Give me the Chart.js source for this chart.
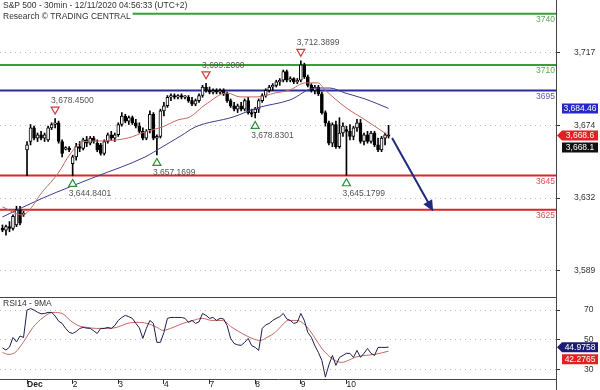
<!DOCTYPE html>
<html>
<head>
<meta charset="utf-8">
<script src="https://cdn.jsdelivr.net/npm/chart.js@4.4.1/dist/chart.umd.min.js"></script>
<style>
  html, body { margin: 0; padding: 0; background: #fff; }
  #wrap { position: relative; width: 600px; height: 390px; }
  #priceChart { position: absolute; left: 0; top: 0; }
  #rsiChart { position: absolute; left: 0; top: 297px; }
</style>
</head>
<body>
<div id="wrap">
  <canvas id="priceChart" width="600" height="297"></canvas>
  <canvas id="rsiChart" width="600" height="93"></canvas>
</div>
<script>
const FONT = '"Liberation Sans", Arial, sans-serif';

// sessions: bar index of the first 30min bar of each day
const dayLabels = ['Dec', '2', '3', '4', '7', '8', '9', '10'];
const dayStart = [7, 20, 33, 46, 59, 72, 85, 98];

// OHLC, one value per 30min bar (Nov 30 tail, then Dec 1 .. Dec 10)
const opens = [
  3614, 3613, 3615, 3614, 3616, 3625, 3622,
  3660, 3665, 3673, 3667, 3669, 3667, 3666, 3673, 3675, 3676, 3665, 3660.5, 3661,
  3652, 3656, 3662, 3661, 3666, 3664, 3667, 3664, 3663, 3658, 3665, 3669, 3667,
  3669, 3675, 3680, 3677, 3679, 3676, 3674, 3671, 3667, 3672, 3681, 3667, 3668,
  3683, 3686, 3691, 3692, 3691, 3692, 3691, 3691, 3689, 3687, 3689, 3692, 3697,
  3695, 3694, 3695, 3694, 3695, 3693, 3689, 3686, 3684, 3686, 3684, 3689, 3682,
  3682, 3684, 3689, 3692, 3695, 3697, 3698, 3700, 3701, 3706, 3701, 3702, 3700,
  3701, 3710, 3703, 3698, 3695, 3697, 3693, 3682, 3676, 3664, 3675, 3662, 3670,
  3672, 3671, 3668, 3673, 3676, 3665, 3669, 3665, 3670, 3663, 3660, 3667, 3669
];
const highs = [
  3616, 3616, 3618, 3622, 3627, 3627, 3624,
  3665, 3675, 3674, 3670, 3671, 3670, 3674, 3676, 3678.45, 3677, 3666, 3662, 3662,
  3657, 3664, 3665, 3667, 3668, 3668, 3668, 3666, 3664, 3666, 3670, 3671, 3670,
  3676, 3682, 3681, 3680, 3680, 3678, 3676, 3673, 3672, 3683, 3682, 3669, 3684,
  3688, 3692, 3693, 3693, 3692.5, 3693, 3692, 3692, 3691, 3690, 3693, 3698, 3699.2,
  3697, 3696, 3696, 3696, 3696, 3694, 3690, 3688, 3687, 3688, 3690, 3691, 3684,
  3685, 3690, 3693, 3696, 3698, 3699, 3701, 3702, 3707, 3707, 3703, 3702.5, 3702,
  3712.39, 3711, 3704, 3699, 3698, 3698, 3694, 3683, 3677, 3676, 3677, 3679, 3676,
  3674, 3675, 3674, 3678, 3678, 3670, 3671, 3671, 3671, 3667, 3668, 3670, 3674.5
];
const lows = [
  3612, 3610, 3612, 3613, 3615, 3616, 3621,
  3645, 3663, 3666, 3665, 3666, 3665, 3665, 3672, 3673, 3664, 3656, 3660, 3659,
  3644.84, 3654, 3659, 3660, 3662, 3663, 3664, 3659, 3657, 3657, 3664, 3666, 3665,
  3668, 3674, 3676, 3675, 3675, 3673, 3670, 3666, 3666, 3670, 3666, 3657.17, 3667,
  3680, 3685, 3689, 3690, 3690, 3690, 3690, 3688, 3686, 3686, 3688, 3691, 3694,
  3693, 3693, 3693, 3693, 3692, 3688, 3685, 3683, 3682, 3683, 3683, 3681, 3679.5,
  3678.83, 3682, 3688, 3691, 3694, 3695, 3697, 3698, 3700, 3700, 3700, 3699, 3699,
  3700, 3702, 3697, 3694, 3693, 3692, 3681, 3674, 3663, 3662, 3661, 3661, 3668,
  3645.18, 3666, 3666, 3671, 3664, 3663, 3664, 3664, 3662, 3659, 3659, 3663, 3667
];
const closes = [
  3613, 3615, 3614, 3621, 3625, 3617, 3623,
  3663, 3673, 3667, 3669, 3667, 3669, 3673, 3675, 3676, 3665, 3658, 3661.5, 3660,
  3656, 3662, 3661, 3666, 3664, 3667, 3665, 3660, 3658, 3665, 3669, 3667, 3669,
  3675, 3680, 3677, 3679, 3676, 3674, 3671, 3667, 3671, 3681, 3667, 3668, 3683,
  3686, 3691, 3692, 3691, 3692, 3691, 3691.8, 3689, 3687, 3689, 3692, 3697, 3695,
  3694, 3695, 3694, 3695, 3693, 3689, 3686, 3684, 3686, 3684, 3689, 3682, 3681,
  3684, 3689, 3692, 3695, 3697, 3698, 3700, 3701, 3706, 3701, 3702, 3700, 3701,
  3710, 3703, 3698, 3695, 3697, 3693, 3682, 3676, 3664, 3675, 3662, 3670, 3674,
  3671, 3668, 3673, 3676, 3665, 3669, 3665, 3670, 3663, 3660, 3667, 3669, 3668.1
];

// moving averages (bar index, price)
const redMaBars = [0, 5.6, 11.6, 15.9, 19.3, 23, 27.8, 35.8, 40.6, 45.5, 50, 53.4, 57.7, 64, 67.7, 72.5, 77.7, 81.9, 86.2, 89.9, 91.9, 97.6, 103.3, 110];
const redMaValues = [3626.6, 3621.9, 3636, 3646.5, 3657.7, 3665, 3665.3, 3667.1, 3670.6, 3673.5, 3677.7, 3679.4, 3686.5, 3693.5, 3691.2, 3691.2, 3693.5, 3695.3, 3699.4, 3699.4, 3695.3, 3685.3, 3677.7, 3668.6];
const blueMaBars = [0, 11.6, 26.4, 40.6, 45.5, 50.8, 54.9, 65.7, 72.5, 81.9, 89.1, 93.3, 97.6, 103.3, 110];
const blueMaValues = [3620.7, 3631.9, 3644.2, 3655.9, 3661.8, 3668.3, 3673.5, 3679.4, 3684.7, 3689.4, 3696.4, 3696.4, 3693.5, 3690, 3684.46];

// RSI(14) per bar and its 9-period average
const rsiValues = [
  44.5, 43, 45, 51.5, 48.5, 52.5, 51.5,
  70, 71, 70, 68.5, 67.5, 67.7, 68.4, 68.4, 66, 62.5, 61, 57.6, 55,
  54.2, 55.5, 57.6, 58.3, 57.8, 57.6, 56, 54.2, 57.6, 57.6, 58.3, 57.6, 59.6,
  63, 65, 66.4, 65.5, 64.4, 61, 58, 50.9, 57.6, 63, 61, 48.2, 48.2,
  54.9, 64.4, 65, 65, 65, 65, 64.4, 61.7, 63, 61, 62, 67.7, 66.4,
  64.4, 65, 63, 64.4, 64, 59.6, 50.9, 47.5, 46.5, 46.2, 48.2, 50.9, 46,
  44.8, 42.8, 57.6, 60, 61, 63, 64.4, 65.5, 67.7, 64, 63, 61, 61.7,
  67.7, 63, 54.9, 51.6, 46, 41.4, 36, 24.8, 33, 39.4, 32.7, 38, 39.4,
  40.8, 40.8, 38.1, 42.8, 38.1, 40.8, 44.1, 40.8, 39.4, 44.8, 44.8, 44.8, 44.9758
];
const rsiMaBars = [0, 1.6, 3.6, 5.9, 8.7, 11.6, 14.4, 17, 19.3, 21.5, 24.1, 26.9, 29.8, 32.6, 35.5, 38.3, 41.2, 44, 45.7, 48.6, 51.4, 54.3, 56.9, 59.7, 62.6, 65.4, 68.3, 71.1, 73.4, 75.4, 77.7, 79.6, 81.4, 83.9, 85.3, 87.1, 89.1, 91, 92.8, 94.7, 96.7, 98.5, 100.4, 103.3, 106.1, 110];
const rsiMaValues = [41.4, 40.1, 41.4, 48.2, 58.3, 65, 68.4, 67.7, 63, 59.6, 58.3, 57.6, 57.6, 58.3, 61, 61.7, 61, 58.3, 56.3, 58.3, 61, 63, 64.4, 63, 63, 58.3, 54.2, 50.9, 49.5, 51.6, 54.9, 59.6, 63, 63, 61.7, 57.6, 50.9, 44.1, 39.4, 36, 34.7, 36, 38.1, 39.4, 40.1, 42.2765];

// axes
const priceTicks = [3589.2, 3631.8, 3674.4, 3717];
const rsiTicks = [30, 50, 70];

// horizontal support / resistance levels
const levels = [3740, 3710, 3695, 3645, 3625];
const levelColors = ['#36a036', '#36a036', '#2a2a9e', '#d82626', '#d82626'];
const levelTextColors = ['#5aa85a', '#5aa85a', '#5a5ab4', '#d45050', '#d45050'];

// swing highs / lows marked on the chart
const pivotBars = [15, 20, 44, 58, 72, 85, 98];
const pivotPrices = [3678.45, 3644.8401, 3657.1699, 3699.2, 3678.8301, 3712.3899, 3645.1799];
const pivotKinds = ['high', 'low', 'low', 'high', 'low', 'high', 'low'];

// projected move
const arrowBars = [111, 122.7];
const arrowPrices = [3667, 3624];

const xMin = -0.7, xMax = 157.7;

const fmt = (v, d) => v.toLocaleString('en-US', { minimumFractionDigits: d, maximumFractionDigits: d });

// value tags on the right axis, pushed down when they overlap
function drawTags(ctx, yScale, tags) {
  const h = 10, x0 = 562, x1 = 598;
  let prevBottom = -Infinity;
  tags.map(t => ({ ...t, py: yScale.getPixelForValue(t.value) }))
    .sort((a, b) => a.py - b.py)
    .forEach(t => {
      const top = Math.max(t.py - h / 2, prevBottom + 2);
      const mid = top + h / 2;
      ctx.beginPath();
      ctx.moveTo(x0, top);
      ctx.lineTo(x1, top);
      ctx.lineTo(x1, top + h);
      ctx.lineTo(x0, top + h);
      if (t.pointer) ctx.lineTo(x0 - 5, mid);
      ctx.closePath();
      ctx.fillStyle = t.bg;
      ctx.fill();
      ctx.fillStyle = '#fff';
      ctx.textAlign = 'center';
      ctx.fillText(fmt(t.value, t.dec), (x0 + x1) / 2, mid + 0.5);
      prevBottom = top + h;
    });
}

const priceDecor = {
  id: 'priceDecor',
  afterDraw(chart) {
    const { ctx, chartArea: a, scales: { x, y } } = chart;
    ctx.save();
    ctx.font = '8.5px ' + FONT;
    ctx.textBaseline = 'middle';

    ctx.textAlign = 'right';
    levels.forEach((lv, i) => {
      ctx.fillStyle = levelTextColors[i];
      ctx.fillText(String(lv), a.right - 1, y.getPixelForValue(lv) + 6);
    });

    ctx.textAlign = 'left';
    pivotBars.forEach((b, i) => {
      const px = x.getPixelForValue(b), py = y.getPixelForValue(pivotPrices[i]);
      const high = pivotKinds[i] === 'high';
      const ty = high ? py - 8 : py + 7;
      ctx.beginPath();
      if (high) { ctx.moveTo(px - 4, ty - 3.5); ctx.lineTo(px + 4, ty - 3.5); ctx.lineTo(px, ty + 3.5); }
      else { ctx.moveTo(px - 4, ty + 3.5); ctx.lineTo(px + 4, ty + 3.5); ctx.lineTo(px, ty - 3.5); }
      ctx.closePath();
      ctx.fillStyle = '#fff';
      ctx.fill();
      ctx.lineWidth = 1.2;
      ctx.strokeStyle = high ? '#d23b3b' : '#2f8f3a';
      ctx.stroke();
      ctx.fillStyle = '#555';
      ctx.fillText(fmt(pivotPrices[i], 4), px - 4, high ? py - 18 : py + 18);
    });

    // arrow
    const ax0 = x.getPixelForValue(arrowBars[0]), ay0 = y.getPixelForValue(arrowPrices[0]);
    const ax1 = x.getPixelForValue(arrowBars[1]), ay1 = y.getPixelForValue(arrowPrices[1]);
    const ang = Math.atan2(ay1 - ay0, ax1 - ax0);
    ctx.strokeStyle = '#1f2a80';
    ctx.fillStyle = '#1f2a80';
    ctx.lineWidth = 2;
    ctx.beginPath();
    ctx.moveTo(ax0, ay0);
    ctx.lineTo(ax1 - 8 * Math.cos(ang), ay1 - 8 * Math.sin(ang));
    ctx.stroke();
    ctx.beginPath();
    ctx.moveTo(ax1, ay1);
    ctx.lineTo(ax1 - 11 * Math.cos(ang) + 5 * Math.sin(ang), ay1 - 11 * Math.sin(ang) - 5 * Math.cos(ang));
    ctx.lineTo(ax1 - 11 * Math.cos(ang) - 5 * Math.sin(ang), ay1 - 11 * Math.sin(ang) + 5 * Math.cos(ang));
    ctx.closePath();
    ctx.fill();

    // header
    ['S&P 500 - 30min - 12/11/2020 04:56:33 (UTC+2)', 'Research \u00a9 TRADING CENTRAL'].forEach((t, i) => {
      const ty = 5.5 + i * 11;
      ctx.fillStyle = '#fff';
      ctx.fillRect(0, ty - 5.5, ctx.measureText(t).width + 5, 11);
      ctx.fillStyle = '#333';
      ctx.textAlign = 'left';
      ctx.fillText(t, 3, ty);
    });

    drawTags(ctx, y, [
      { value: blueMaValues[blueMaValues.length - 1], dec: 2, bg: '#2727c8', pointer: false },
      { value: redMaValues[redMaValues.length - 1], dec: 1, bg: '#e02222', pointer: true },
      { value: closes[closes.length - 1], dec: 1, bg: '#111', pointer: false }
    ]);
    ctx.restore();
  }
};

const rsiDecor = {
  id: 'rsiDecor',
  afterDraw(chart) {
    const { ctx, chartArea: a, scales: { y } } = chart;
    ctx.save();
    ctx.strokeStyle = '#444';
    ctx.lineWidth = 1;
    ctx.beginPath();
    ctx.moveTo(0, 0.5);
    ctx.lineTo(a.right, 0.5);
    ctx.moveTo(a.right + 0.5, a.bottom);
    ctx.lineTo(a.right + 0.5, chart.height);
    ctx.stroke();
    ctx.font = '8.5px ' + FONT;
    ctx.textBaseline = 'middle';
    ctx.textAlign = 'left';
    ctx.fillStyle = '#333';
    ctx.fillText('RSI14 - 9MA', 3, 7);
    drawTags(ctx, y, [
      { value: rsiValues[rsiValues.length - 1], dec: 4, bg: '#1c1c78', pointer: true },
      { value: rsiMaValues[rsiMaValues.length - 1], dec: 4, bg: '#e02222', pointer: false }
    ]);
    ctx.restore();
  }
};

const tickFont = { family: FONT, size: 8.5 };

const yAxis = (min, max, ticks, label, pad) => ({
  position: 'right', min, max,
  // fixed axis width, and no extra room for the label padding above/below
  afterFit: s => { s.width = 44; s.paddingTop = 0; s.paddingBottom = 0; },
  afterBuildTicks: s => { s.ticks = ticks.map(v => ({ value: v })); },
  ticks: { callback: label, font: tickFont, color: '#333', padding: pad },
  grid: { color: '#bdbdbd', lineWidth: 1, tickLength: 4, tickColor: '#333', tickBorderDash: [] },
  border: { display: true, color: '#444', width: 1, dash: [1, 4] }
});

new Chart(document.getElementById('priceChart'), {
  type: 'bar',
  data: {
    datasets: [
      ...levels.map((lv, i) => ({
        type: 'line', data: [{ x: xMin, y: lv }, { x: xMax, y: lv }],
        borderColor: levelColors[i], borderWidth: 2, pointRadius: 0, order: 5
      })),
      {
        type: 'bar', data: lows.map((l, i) => ({ x: i, y: [l, highs[i]] })),
        backgroundColor: '#000', barThickness: 1, grouped: false, order: 3
      },
      {
        type: 'bar', data: opens.map((o, i) => ({ x: i, y: [o, closes[i]] })),
        backgroundColor: opens.map((o, i) => closes[i] >= o ? '#fff' : '#000'),
        borderColor: '#000', borderWidth: 1, borderSkipped: false,
        barThickness: 3, grouped: false, order: 2
      },
      {
        type: 'line', data: blueMaBars.map((b, i) => ({ x: b, y: blueMaValues[i] })),
        borderColor: '#3d3d8f', borderWidth: 1, pointRadius: 0, cubicInterpolationMode: 'monotone', order: 1
      },
      {
        type: 'line', data: redMaBars.map((b, i) => ({ x: b, y: redMaValues[i] })),
        borderColor: '#c46860', borderWidth: 1, pointRadius: 0, cubicInterpolationMode: 'monotone', order: 0
      }
    ]
  },
  options: {
    responsive: false, animation: false, events: [],
    layout: { padding: 0 },
    plugins: { legend: { display: false }, tooltip: { enabled: false } },
    scales: {
      x: { type: 'linear', min: xMin, max: xMax, offset: false, display: false, grid: { offset: false } },
      y: yAxis(3573.7, 3748.1, priceTicks, v => Math.round(v).toLocaleString('en-US'), 14)
    }
  },
  plugins: [priceDecor]
});

new Chart(document.getElementById('rsiChart'), {
  type: 'line',
  data: {
    datasets: [
      {
        data: rsiMaBars.map((b, i) => ({ x: b, y: rsiMaValues[i] })),
        borderColor: '#c46860', borderWidth: 1, pointRadius: 0, cubicInterpolationMode: 'monotone', order: 1
      },
      {
        data: rsiValues.map((v, i) => ({ x: i, y: v })),
        borderColor: '#1e1e4e', borderWidth: 1, pointRadius: 0, order: 0
      }
    ]
  },
  options: {
    responsive: false, animation: false, events: [],
    layout: { padding: 0 },
    plugins: { legend: { display: false }, tooltip: { enabled: false } },
    scales: {
      x: {
        type: 'linear', min: xMin, max: xMax, offset: false,
        afterFit: s => { s.height = 11; },
        afterBuildTicks: s => { s.ticks = dayStart.map(v => ({ value: v })); },
        ticks: {
          callback: v => dayLabels[dayStart.indexOf(v)],
          align: 'start', padding: -4, maxRotation: 0, autoSkip: false, color: '#222',
          font: c => ({ family: FONT, size: 8.5, weight: c.index === 0 ? 'bold' : 'normal' })
        },
        grid: { drawOnChartArea: false, drawTicks: true, tickLength: 5, tickColor: '#333', offset: false },
        border: { display: true, color: '#444', width: 1 }
      },
      y: yAxis(23.5, 78.8, rsiTicks, v => String(v), 24)
    }
  },
  plugins: [rsiDecor]
});
</script>
</body>
</html>
